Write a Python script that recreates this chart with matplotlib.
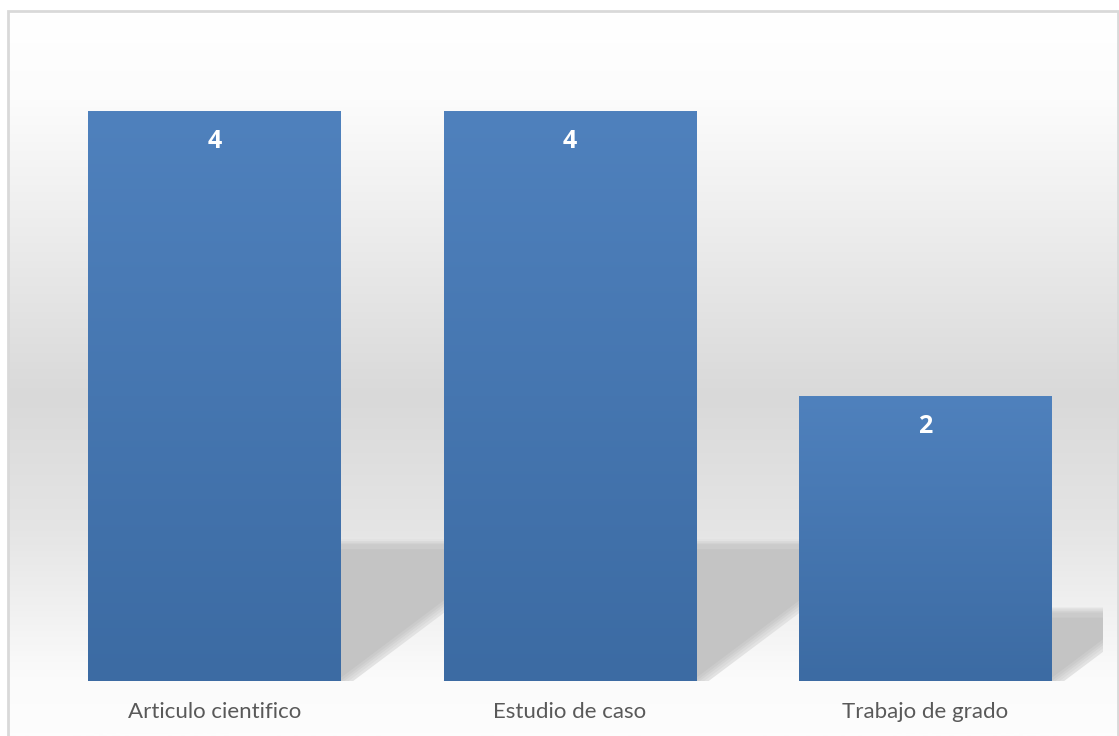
import numpy as np
import matplotlib
matplotlib.use('Agg')
import matplotlib.pyplot as plt
from matplotlib.colors import LinearSegmentedColormap
from matplotlib.patches import Polygon, Rectangle

categories = ['Articulo cientifico', 'Estudio de caso', 'Trabajo de grado']
values = [4, 4, 2]

W, H = 1119, 736
fig = plt.figure(figsize=(W / 100, H / 100), dpi=100)
fig.patch.set_facecolor('white')

# chart area background: white -> gray -> white vertical gradient
bg = fig.add_axes([8 / W, 0, 1 - 8 / W, 1 - 11 / H], zorder=0)
bg_cmap = LinearSegmentedColormap.from_list(
    'bg', [(0.0, '#ffffff'), (0.12, '#fcfcfc'), (0.53, '#d9d9d9'),
           (0.72, '#e5e5e5'), (0.92, '#fbfbfb'), (1.0, '#fdfdfd')])
grad = np.linspace(0, 1, 400).reshape(-1, 1)
bg.imshow(grad, aspect='auto', cmap=bg_cmap, extent=[0, 1, 0, 1], origin='upper')
bg.set_xlim(0, 1)
bg.set_ylim(0, 1)
bg.axis('off')
bg.add_patch(Rectangle((0, -0.05), 0.9995, 1.05, fill=False, edgecolor='#d9d9d9',
                       linewidth=2, transform=bg.transAxes, clip_on=False))

ax = fig.add_axes([36.75 / W, 55 / H, 1066.5 / W, 641.25 / H], zorder=1)
ax.patch.set_alpha(0)
x = np.arange(len(categories))
width = 0.71

# perspective shadows behind the bars, layered for a soft edge
skew = 0.534
layers = [(-0.035, -0.035, '#e2e2e2'), (-0.022, -0.022, '#dadada'),
          (-0.01, -0.01, '#d2d2d2'), (0.0, 0.0, '#cbcbcb'),
          (0.012, 0.035, '#c4c4c4')]
for xi, v in zip(x, values):
    x0, x1 = xi - width / 2, xi + width / 2
    h = 0.24 * v
    for e, ey, col in layers:
        top = h - ey
        poly = Polygon([(x0, 0), (x1 - e, 0), (x1 - e + skew * top, top),
                        (x0 + skew * top, top)], closed=True, facecolor=col,
                       edgecolor='none', zorder=1)
        ax.add_patch(poly)

# gradient filled bars
bar_cmap = LinearSegmentedColormap.from_list('bar', ['#3c6ba3', '#4f81bd'])
bars = ax.bar(x, values, width=width, color='none', zorder=2)
for b in bars:
    bx, by = b.get_x(), b.get_y()
    bw, bh = b.get_width(), b.get_height()
    g = np.linspace(0, 1, 256).reshape(-1, 1)
    ax.imshow(g, aspect='auto', cmap=bar_cmap, origin='lower',
              extent=[bx, bx + bw, by, by + bh], zorder=3)
    ax.text(bx + bw / 2, bh - 0.215, f'{int(bh)}', ha='center', va='center',
            color='white', fontsize=18, fontweight='bold', family='Open Sans', zorder=4)
ax.set_xlim(-0.5, len(categories) - 0.5)
ax.set_ylim(0, 4.5)

ax.set_xticks(x)
ax.set_xticklabels(categories, fontsize=16, color='#595959', family='Lato')
ax.tick_params(axis='x', length=0, pad=15)
ax.set_yticks([])
for s in ax.spines.values():
    s.set_visible(False)

fig.savefig('out.png', dpi=100)
